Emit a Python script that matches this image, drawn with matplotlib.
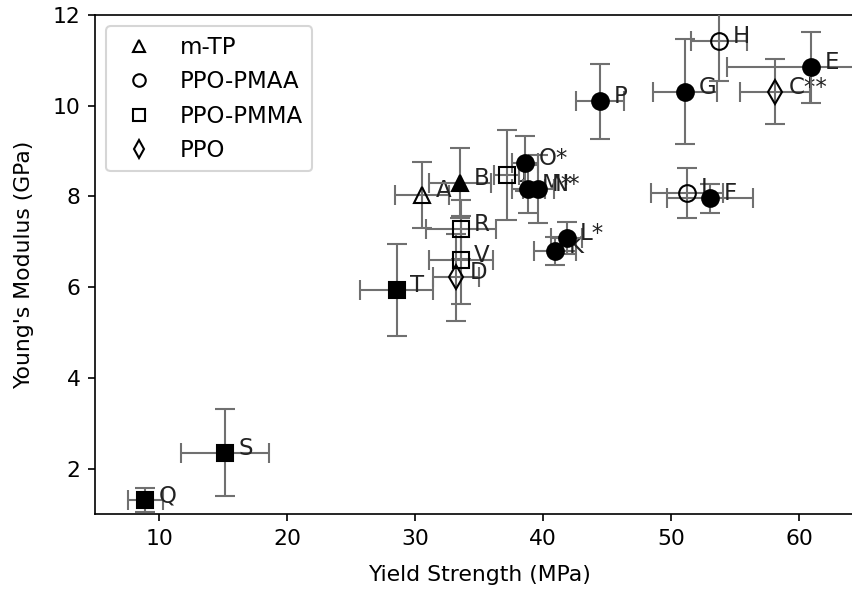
import matplotlib
matplotlib.use('Agg')
import matplotlib.pyplot as plt
from matplotlib.lines import Line2D

# sample labels, in plotting order
labels = ['A', 'B', 'C**', 'D', 'E', 'F', 'G', 'H', 'I', 'J', 'K',
          'L*', 'M*', 'N*', 'O*', 'P', 'Q', 'R', 'S', 'T', 'V']

# yield strength (MPa) and its error
yield_strength = [30.55, 33.52, 58.13, 33.20, 60.94, 53.05, 51.09, 53.75, 51.23, 37.16, 40.94,
                  41.85, 38.85, 39.63, 38.59, 44.45, 8.91, 33.57, 15.16, 28.57, 33.57]
yield_err = [2.1, 2.4, 2.73, 1.77, 6.59, 3.35, 2.48, 2.15, 2.8, 1.0, 1.64,
             1.2, 1.3, 1.2, 1.0, 1.9, 1.37, 2.73, 3.41, 2.87, 2.5]

# Young's modulus (GPa) and its error
modulus = [8.03, 8.30, 10.31, 6.22, 10.85, 7.96, 10.31, 11.43, 8.08, 8.47, 6.80,
           7.08, 8.16, 8.16, 8.73, 10.10, 1.31, 7.28, 2.35, 5.94, 6.60]
modulus_err = [0.72, 0.77, 0.72, 0.96, 0.78, 0.32, 1.16, 0.88, 0.55, 1.0, 0.3,
               0.35, 0.53, 0.75, 0.6, 0.83, 0.26, 0.65, 0.96, 1.02, 0.96]

# polymer system of each sample
system = ['m-TP', 'm-TP', 'PPO', 'PPO', 'PPO-PMAA', 'PPO-PMAA', 'PPO-PMAA', 'PPO-PMAA',
          'PPO-PMAA', 'PPO-PMMA', 'PPO-PMAA', 'PPO-PMAA', 'PPO-PMAA', 'PPO-PMAA',
          'PPO-PMAA', 'PPO-PMAA', 'PPO-PMMA', 'PPO-PMMA', 'PPO-PMMA', 'PPO-PMMA', 'PPO-PMMA']

# filled marker or open marker
filled = [False, True, False, False, True, True, True, False, False, False, True,
          True, True, True, True, True, True, False, True, True, False]

markers = {'m-TP': '^', 'PPO-PMAA': 'o', 'PPO-PMMA': 's', 'PPO': 'd'}

fig = plt.figure(figsize=(852 / 150, 589 / 150), dpi=150)
ax = fig.add_axes([95 / 852, 75 / 589, 768 / 852, 499 / 589])

for lab, x, xe, y, ye, sysname, full in zip(labels, yield_strength, yield_err,
                                           modulus, modulus_err, system, filled):
    ax.errorbar(x, y, xerr=xe, yerr=ye, marker=markers[sysname], ms=8,
                mfc='k' if full else 'none', mec='k', ecolor='#707070',
                elinewidth=1, capsize=5, ls='none', zorder=3)
    ax.annotate(lab, (x, y), xytext=(6.5, -1), textcoords='offset points',
                fontsize=11, color='#222222', zorder=3)

handles = [Line2D([], [], marker=markers[s], mfc='none', mec='k', ls='none')
           for s in ['m-TP', 'PPO-PMAA', 'PPO-PMMA', 'PPO']]
ax.legend(handles, ['m-TP', 'PPO-PMAA', 'PPO-PMMA', 'PPO'], loc='upper left',
          fontsize=11)

ax.set_xlim(5, 65)
ax.set_ylim(1, 12)
ax.tick_params(labelsize=10.5)
ax.set_xlabel('Yield Strength (MPa)', fontsize=10.5, labelpad=8)
ax.set_ylabel("Young's Modulus (GPa)", fontsize=10.5, labelpad=9)

plt.savefig('out.png', dpi=150)
